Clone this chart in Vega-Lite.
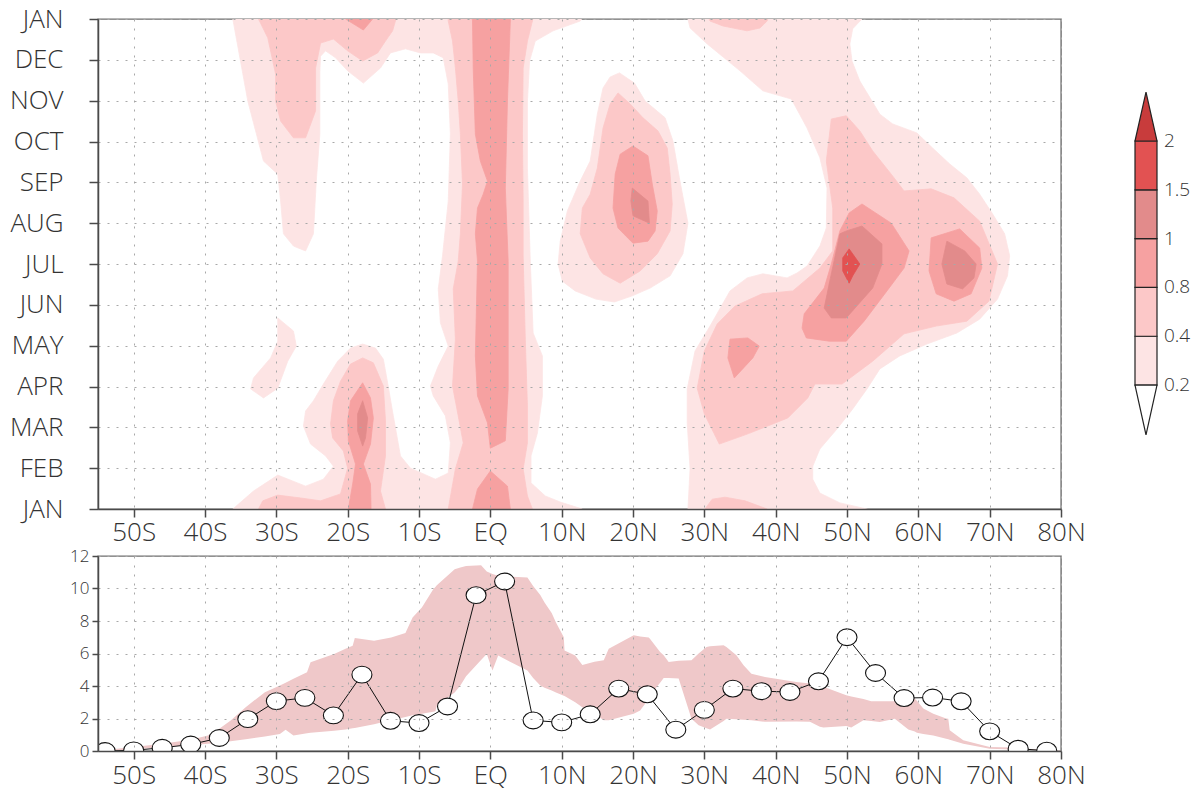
{
  "$schema": "https://vega.github.io/schema/vega-lite/v6.json",
  "background": "white",
  "padding": {"left": 8, "top": 5, "right": 5, "bottom": 5},
  "config": {
    "view": {"stroke": "#6e6e6e", "strokeWidth": 1.4},
    "axis": {"labelFont": "Open Sans", "labelFontWeight": 300, "labelColor": "#333333", "domainColor": "#4a4a4a", "domainWidth": 1.5, "tickColor": "#4a4a4a", "tickWidth": 1.5, "gridColor": "#a8a8a8", "gridDash": [2, 7], "gridWidth": 1, "labelOverlap": false, "labelFlush": false}
  },
  "datasets": {
    "cont": [
      {"p":"A","l":1,"x":-36.6,"y":12.2},{"p":"A","l":1,"x":13.6,"y":12.2},{"p":"A","l":1,"x":12.6,"y":11.95},{"p":"A","l":1,"x":8.8,"y":11.71},{"p":"A","l":1,"x":6.3,"y":11.46},{"p":"A","l":1,"x":5.5,"y":10.97},{"p":"A","l":1,"x":5.2,"y":9.99},{"p":"A","l":1,"x":5.2,"y":8.35},{"p":"A","l":1,"x":5.6,"y":6.07},{"p":"A","l":1,"x":6.0,"y":4.31},{"p":"A","l":1,"x":7.3,"y":3.75},{"p":"A","l":1,"x":7.3,"y":2.77},{"p":"A","l":1,"x":6.6,"y":1.86},{"p":"A","l":1,"x":5.7,"y":1.30},{"p":"A","l":1,"x":5.7,"y":0.64},{"p":"A","l":1,"x":7.7,"y":0.32},{"p":"A","l":1,"x":9.8,"y":0.17},{"p":"A","l":1,"x":12.9,"y":0},{"p":"A","l":1,"x":14.0,"y":-0.2},{"p":"A","l":1,"x":-37.3,"y":-0.2},{"p":"A","l":1,"x":-36.1,"y":0},{"p":"A","l":1,"x":-33.2,"y":0.44},{"p":"A","l":1,"x":-29.8,"y":0.83},{"p":"A","l":1,"x":-25.9,"y":0.56},{"p":"A","l":1,"x":-23.4,"y":0.73},{"p":"A","l":1,"x":-22.0,"y":1.05},{"p":"A","l":1,"x":-23.1,"y":1.30},{"p":"A","l":1,"x":-25.2,"y":1.59},{"p":"A","l":1,"x":-26.2,"y":2.03},{"p":"A","l":1,"x":-25.9,"y":2.40},{"p":"A","l":1,"x":-24.8,"y":2.65},{"p":"A","l":1,"x":-23.4,"y":3.06},{"p":"A","l":1,"x":-21.4,"y":3.62},{"p":"A","l":1,"x":-19.6,"y":3.94},{"p":"A","l":1,"x":-17.9,"y":4.04},{"p":"A","l":1,"x":-16.1,"y":3.94},{"p":"A","l":1,"x":-15.0,"y":3.67},{"p":"A","l":1,"x":-14.4,"y":3.09},{"p":"A","l":1,"x":-13.6,"y":2.28},{"p":"A","l":1,"x":-12.6,"y":1.30},{"p":"A","l":1,"x":-11.2,"y":1.00},{"p":"A","l":1,"x":-7.7,"y":0.73},{"p":"A","l":1,"x":-5.9,"y":0.88},{"p":"A","l":1,"x":-5.6,"y":1.62},{"p":"A","l":1,"x":-6.3,"y":2.28},{"p":"A","l":1,"x":-8.0,"y":2.77},{"p":"A","l":1,"x":-8.4,"y":3.01},{"p":"A","l":1,"x":-7.3,"y":3.50},{"p":"A","l":1,"x":-5.9,"y":3.99},{"p":"A","l":1,"x":-7.0,"y":4.56},{"p":"A","l":1,"x":-7.3,"y":5.39},{"p":"A","l":1,"x":-6.7,"y":6.20},{"p":"A","l":1,"x":-5.9,"y":7.54},{"p":"A","l":1,"x":-5.6,"y":9.18},{"p":"A","l":1,"x":-5.9,"y":10.41},{"p":"A","l":1,"x":-6.6,"y":11.05},{"p":"A","l":1,"x":-8.0,"y":11.17},{"p":"A","l":1,"x":-9.8,"y":11.17},{"p":"A","l":1,"x":-11.9,"y":11.27},{"p":"A","l":1,"x":-14.0,"y":11.17},{"p":"A","l":1,"x":-15.4,"y":10.80},{"p":"A","l":1,"x":-17.8,"y":10.43},{"p":"A","l":1,"x":-20.0,"y":10.73},{"p":"A","l":1,"x":-21.7,"y":11.05},{"p":"A","l":1,"x":-23.1,"y":11.22},{"p":"A","l":1,"x":-23.8,"y":11.09},{"p":"A","l":1,"x":-23.9,"y":10.73},{"p":"A","l":1,"x":-23.9,"y":9.18},{"p":"A","l":1,"x":-24.4,"y":8.03},{"p":"A","l":1,"x":-24.8,"y":6.74},{"p":"A","l":1,"x":-25.9,"y":6.32},{"p":"A","l":1,"x":-27.6,"y":6.44},{"p":"A","l":1,"x":-29.0,"y":6.74},{"p":"A","l":1,"x":-29.4,"y":7.54},{"p":"A","l":1,"x":-29.8,"y":8.20},{"p":"A","l":1,"x":-31.8,"y":8.52},{"p":"A","l":1,"x":-34.0,"y":9.99},{"p":"A","l":1,"x":-36.1,"y":12.0},
      {"p":"B","l":1,"x":-29.8,"y":4.68},{"p":"B","l":1,"x":-27.6,"y":4.36},{"p":"B","l":1,"x":-27.2,"y":3.99},{"p":"B","l":1,"x":-28.4,"y":3.62},{"p":"B","l":1,"x":-29.8,"y":2.96},{"p":"B","l":1,"x":-31.8,"y":2.72},{"p":"B","l":1,"x":-33.6,"y":2.94},{"p":"B","l":1,"x":-33.2,"y":3.21},{"p":"B","l":1,"x":-30.8,"y":3.70},{"p":"B","l":1,"x":-29.8,"y":4.11},
      {"p":"C","l":1,"x":18.1,"y":10.68},{"p":"C","l":1,"x":20.2,"y":10.43},{"p":"C","l":1,"x":21.7,"y":9.99},{"p":"C","l":1,"x":24.5,"y":9.58},{"p":"C","l":1,"x":25.6,"y":9.01},{"p":"C","l":1,"x":26.5,"y":8.11},{"p":"C","l":1,"x":27.7,"y":7.00},{"p":"C","l":1,"x":27.0,"y":6.25},{"p":"C","l":1,"x":25.2,"y":5.71},{"p":"C","l":1,"x":22.4,"y":5.41},{"p":"C","l":1,"x":19.9,"y":5.22},{"p":"C","l":1,"x":17.4,"y":5.07},{"p":"C","l":1,"x":14.8,"y":5.14},{"p":"C","l":1,"x":11.9,"y":5.34},{"p":"C","l":1,"x":10.1,"y":5.58},{"p":"C","l":1,"x":9.5,"y":6.00},{"p":"C","l":1,"x":9.8,"y":6.56},{"p":"C","l":1,"x":10.8,"y":7.30},{"p":"C","l":1,"x":12.6,"y":8.03},{"p":"C","l":1,"x":14.0,"y":8.52},{"p":"C","l":1,"x":15.0,"y":9.67},{"p":"C","l":1,"x":15.8,"y":10.31},{"p":"C","l":1,"x":16.8,"y":10.58},
      {"p":"D","l":1,"x":27.2,"y":12.2},{"p":"D","l":1,"x":52.7,"y":12.2},{"p":"D","l":1,"x":52.1,"y":12.0},{"p":"D","l":1,"x":50.8,"y":11.76},{"p":"D","l":1,"x":50.4,"y":11.39},{"p":"D","l":1,"x":50.7,"y":10.97},{"p":"D","l":1,"x":51.8,"y":10.48},{"p":"D","l":1,"x":53.5,"y":9.99},{"p":"D","l":1,"x":54.6,"y":9.67},{"p":"D","l":1,"x":56.4,"y":9.43},{"p":"D","l":1,"x":59.8,"y":9.21},{"p":"D","l":1,"x":62.0,"y":8.84},{"p":"D","l":1,"x":64.4,"y":8.45},{"p":"D","l":1,"x":66.8,"y":8.11},{"p":"D","l":1,"x":68.6,"y":7.71},{"p":"D","l":1,"x":70.4,"y":7.23},{"p":"D","l":1,"x":72.1,"y":6.74},{"p":"D","l":1,"x":72.8,"y":6.20},{"p":"D","l":1,"x":72.5,"y":5.71},{"p":"D","l":1,"x":71.1,"y":5.14},{"p":"D","l":1,"x":68.6,"y":4.65},{"p":"D","l":1,"x":65.4,"y":4.31},{"p":"D","l":1,"x":61.2,"y":4.04},{"p":"D","l":1,"x":57.4,"y":3.75},{"p":"D","l":1,"x":54.6,"y":3.43},{"p":"D","l":1,"x":52.8,"y":2.94},{"p":"D","l":1,"x":50.8,"y":2.45},{"p":"D","l":1,"x":48.6,"y":1.96},{"p":"D","l":1,"x":46.2,"y":1.47},{"p":"D","l":1,"x":45.2,"y":1.05},{"p":"D","l":1,"x":45.2,"y":0.73},{"p":"D","l":1,"x":46.2,"y":0.39},{"p":"D","l":1,"x":49.0,"y":0.15},{"p":"D","l":1,"x":52.8,"y":0},{"p":"D","l":1,"x":54.6,"y":-0.2},{"p":"D","l":1,"x":27.2,"y":-0.2},{"p":"D","l":1,"x":27.7,"y":0},{"p":"D","l":1,"x":28.0,"y":0.98},{"p":"D","l":1,"x":27.6,"y":2.11},{"p":"D","l":1,"x":27.6,"y":2.94},{"p":"D","l":1,"x":28.7,"y":3.87},{"p":"D","l":1,"x":30.8,"y":4.48},{"p":"D","l":1,"x":33.6,"y":5.34},{"p":"D","l":1,"x":36.0,"y":5.66},{"p":"D","l":1,"x":38.2,"y":5.76},{"p":"D","l":1,"x":41.6,"y":5.66},{"p":"D","l":1,"x":43.0,"y":5.78},{"p":"D","l":1,"x":44.4,"y":5.95},{"p":"D","l":1,"x":46.2,"y":6.44},{"p":"D","l":1,"x":47.1,"y":6.88},{"p":"D","l":1,"x":47.2,"y":7.86},{"p":"D","l":1,"x":46.2,"y":8.60},{"p":"D","l":1,"x":44.4,"y":9.33},{"p":"D","l":1,"x":42.2,"y":10.04},{"p":"D","l":1,"x":38.2,"y":10.24},{"p":"D","l":1,"x":35.0,"y":10.73},{"p":"D","l":1,"x":30.4,"y":11.39},{"p":"D","l":1,"x":28.0,"y":11.78},{"p":"D","l":1,"x":27.7,"y":12.0},
      {"p":"E","l":2,"x":-32.8,"y":12.2},{"p":"E","l":2,"x":-32.5,"y":12.0},{"p":"E","l":2,"x":-31.2,"y":11.54},{"p":"E","l":2,"x":-30.1,"y":10.65},{"p":"E","l":2,"x":-30.1,"y":9.99},{"p":"E","l":2,"x":-29.4,"y":9.50},{"p":"E","l":2,"x":-27.6,"y":9.09},{"p":"E","l":2,"x":-25.9,"y":9.09},{"p":"E","l":2,"x":-24.5,"y":9.75},{"p":"E","l":2,"x":-24.5,"y":10.80},{"p":"E","l":2,"x":-23.8,"y":11.41},{"p":"E","l":2,"x":-22.0,"y":11.51},{"p":"E","l":2,"x":-20.0,"y":11.22},{"p":"E","l":2,"x":-17.9,"y":10.97},{"p":"E","l":2,"x":-15.8,"y":11.17},{"p":"E","l":2,"x":-14.7,"y":11.46},{"p":"E","l":2,"x":-13.7,"y":11.71},{"p":"E","l":2,"x":-12.9,"y":12.2},
      {"p":"F","l":2,"x":-6.0,"y":12.2},{"p":"F","l":2,"x":-5.9,"y":11.95},{"p":"F","l":2,"x":-5.3,"y":11.46},{"p":"F","l":2,"x":-4.9,"y":10.80},{"p":"F","l":2,"x":-4.5,"y":9.99},{"p":"F","l":2,"x":-4.2,"y":9.18},{"p":"F","l":2,"x":-3.9,"y":7.96},{"p":"F","l":2,"x":-4.2,"y":6.74},{"p":"F","l":2,"x":-4.5,"y":6.07},{"p":"F","l":2,"x":-5.2,"y":5.39},{"p":"F","l":2,"x":-4.9,"y":4.16},{"p":"F","l":2,"x":-5.3,"y":3.01},{"p":"F","l":2,"x":-4.5,"y":2.28},{"p":"F","l":2,"x":-3.8,"y":1.62},{"p":"F","l":2,"x":-4.9,"y":0.98},{"p":"F","l":2,"x":-5.9,"y":0},{"p":"F","l":2,"x":-6.2,"y":-0.2},{"p":"F","l":2,"x":6.0,"y":-0.2},{"p":"F","l":2,"x":5.9,"y":0},{"p":"F","l":2,"x":5.2,"y":0.32},{"p":"F","l":2,"x":4.6,"y":0.98},{"p":"F","l":2,"x":5.2,"y":1.62},{"p":"F","l":2,"x":5.2,"y":2.52},{"p":"F","l":2,"x":4.9,"y":4.16},{"p":"F","l":2,"x":4.6,"y":6.20},{"p":"F","l":2,"x":4.6,"y":7.54},{"p":"F","l":2,"x":4.5,"y":9.18},{"p":"F","l":2,"x":4.6,"y":10.80},{"p":"F","l":2,"x":5.2,"y":11.46},{"p":"F","l":2,"x":5.9,"y":11.95},{"p":"F","l":2,"x":6.2,"y":12.2},
      {"p":"G","l":2,"x":-32.8,"y":-0.2},{"p":"G","l":2,"x":-32.5,"y":0},{"p":"G","l":2,"x":-31.9,"y":0.20},{"p":"G","l":2,"x":-29.8,"y":0.34},{"p":"G","l":2,"x":-26.6,"y":0.27},{"p":"G","l":2,"x":-23.8,"y":0.20},{"p":"G","l":2,"x":-21.0,"y":0.37},{"p":"G","l":2,"x":-20.0,"y":1.00},{"p":"G","l":2,"x":-20.6,"y":1.42},{"p":"G","l":2,"x":-22.1,"y":1.74},{"p":"G","l":2,"x":-22.4,"y":2.08},{"p":"G","l":2,"x":-22.0,"y":2.65},{"p":"G","l":2,"x":-21.0,"y":3.13},{"p":"G","l":2,"x":-19.6,"y":3.55},{"p":"G","l":2,"x":-17.9,"y":3.70},{"p":"G","l":2,"x":-16.4,"y":3.58},{"p":"G","l":2,"x":-15.0,"y":3.01},{"p":"G","l":2,"x":-14.7,"y":2.16},{"p":"G","l":2,"x":-14.7,"y":1.30},{"p":"G","l":2,"x":-15.0,"y":0.93},{"p":"G","l":2,"x":-15.4,"y":0.44},{"p":"G","l":2,"x":-14.7,"y":0},{"p":"G","l":2,"x":-14.6,"y":-0.2},
      {"p":"H","l":2,"x":17.9,"y":10.19},{"p":"H","l":2,"x":19.6,"y":9.92},{"p":"H","l":2,"x":21.4,"y":9.58},{"p":"H","l":2,"x":23.5,"y":9.26},{"p":"H","l":2,"x":24.8,"y":8.84},{"p":"H","l":2,"x":25.2,"y":8.20},{"p":"H","l":2,"x":25.5,"y":7.47},{"p":"H","l":2,"x":25.2,"y":6.81},{"p":"H","l":2,"x":23.4,"y":6.25},{"p":"H","l":2,"x":21.0,"y":5.83},{"p":"H","l":2,"x":18.2,"y":5.53},{"p":"H","l":2,"x":15.8,"y":5.76},{"p":"H","l":2,"x":14.0,"y":6.15},{"p":"H","l":2,"x":12.6,"y":6.74},{"p":"H","l":2,"x":12.9,"y":7.37},{"p":"H","l":2,"x":14.0,"y":7.71},{"p":"H","l":2,"x":15.0,"y":8.35},{"p":"H","l":2,"x":15.8,"y":9.33},{"p":"H","l":2,"x":16.8,"y":9.92},
      {"p":"I","l":2,"x":30.1,"y":12.2},{"p":"I","l":2,"x":30.8,"y":11.95},{"p":"I","l":2,"x":32.6,"y":11.83},{"p":"I","l":2,"x":36.0,"y":11.71},{"p":"I","l":2,"x":37.8,"y":11.78},{"p":"I","l":2,"x":38.8,"y":11.95},{"p":"I","l":2,"x":39.2,"y":12.2},
      {"p":"J","l":2,"x":47.8,"y":9.55},{"p":"J","l":2,"x":49.9,"y":9.63},{"p":"J","l":2,"x":51.8,"y":9.26},{"p":"J","l":2,"x":53.6,"y":8.77},{"p":"J","l":2,"x":56.2,"y":8.20},{"p":"J","l":2,"x":58.0,"y":7.79},{"p":"J","l":2,"x":61.8,"y":7.84},{"p":"J","l":2,"x":65.0,"y":7.62},{"p":"J","l":2,"x":68.6,"y":7.05},{"p":"J","l":2,"x":71.1,"y":6.00},{"p":"J","l":2,"x":69.9,"y":5.09},{"p":"J","l":2,"x":66.8,"y":4.60},{"p":"J","l":2,"x":62.5,"y":4.48},{"p":"J","l":2,"x":58.0,"y":4.29},{"p":"J","l":2,"x":53.6,"y":3.62},{"p":"J","l":2,"x":49.3,"y":3.06},{"p":"J","l":2,"x":45.5,"y":3.06},{"p":"J","l":2,"x":44.5,"y":2.72},{"p":"J","l":2,"x":41.7,"y":2.23},{"p":"J","l":2,"x":36.1,"y":1.84},{"p":"J","l":2,"x":32.1,"y":1.59},{"p":"J","l":2,"x":30.0,"y":2.33},{"p":"J","l":2,"x":29.0,"y":2.96},{"p":"J","l":2,"x":30.0,"y":3.87},{"p":"J","l":2,"x":31.8,"y":4.53},{"p":"J","l":2,"x":34.3,"y":4.97},{"p":"J","l":2,"x":38.1,"y":5.27},{"p":"J","l":2,"x":42.4,"y":5.34},{"p":"J","l":2,"x":46.2,"y":5.90},{"p":"J","l":2,"x":48.0,"y":6.32},{"p":"J","l":2,"x":48.0,"y":7.37},{"p":"J","l":2,"x":47.1,"y":8.52},
      {"p":"K","l":2,"x":29.8,"y":-0.2},{"p":"K","l":2,"x":30.1,"y":0},{"p":"K","l":2,"x":31.1,"y":0.24},{"p":"K","l":2,"x":32.9,"y":0.29},{"p":"K","l":2,"x":35.7,"y":0.20},{"p":"K","l":2,"x":38.8,"y":0},{"p":"K","l":2,"x":39.2,"y":-0.2},
      {"p":"L","l":3,"x":-20.6,"y":12.2},{"p":"L","l":3,"x":-20.3,"y":12.0},{"p":"L","l":3,"x":-17.8,"y":11.73},{"p":"L","l":3,"x":-16.5,"y":12.0},{"p":"L","l":3,"x":-16.2,"y":12.2},
      {"p":"M","l":3,"x":-2.7,"y":12.2},{"p":"M","l":3,"x":-2.5,"y":11.95},{"p":"M","l":3,"x":-2.4,"y":10.80},{"p":"M","l":3,"x":-2.1,"y":9.18},{"p":"M","l":3,"x":-1.4,"y":8.52},{"p":"M","l":3,"x":-0.4,"y":8.03},{"p":"M","l":3,"x":-1.0,"y":7.71},{"p":"M","l":3,"x":-1.8,"y":7.37},{"p":"M","l":3,"x":-2.1,"y":6.74},{"p":"M","l":3,"x":-1.8,"y":6.07},{"p":"M","l":3,"x":-2.1,"y":3.75},{"p":"M","l":3,"x":-1.8,"y":2.77},{"p":"M","l":3,"x":-0.4,"y":2.11},{"p":"M","l":3,"x":0,"y":1.49},{"p":"M","l":3,"x":2.1,"y":1.67},{"p":"M","l":3,"x":2.5,"y":2.94},{"p":"M","l":3,"x":2.5,"y":6.07},{"p":"M","l":3,"x":2.1,"y":7.86},{"p":"M","l":3,"x":2.4,"y":9.99},{"p":"M","l":3,"x":2.8,"y":11.95},{"p":"M","l":3,"x":2.9,"y":12.2},
      {"p":"N","l":3,"x":-2.7,"y":-0.2},{"p":"N","l":3,"x":-2.5,"y":0},{"p":"N","l":3,"x":-1.8,"y":0.49},{"p":"N","l":3,"x":0,"y":0.93},{"p":"N","l":3,"x":2.4,"y":0.56},{"p":"N","l":3,"x":2.8,"y":0},{"p":"N","l":3,"x":2.9,"y":-0.2},
      {"p":"O","l":3,"x":-17.9,"y":3.09},{"p":"O","l":3,"x":-16.8,"y":2.72},{"p":"O","l":3,"x":-16.4,"y":2.23},{"p":"O","l":3,"x":-16.8,"y":1.59},{"p":"O","l":3,"x":-17.8,"y":1.10},{"p":"O","l":3,"x":-16.8,"y":0.61},{"p":"O","l":3,"x":-16.7,"y":-0.2},{"p":"O","l":3,"x":-20.0,"y":-0.2},{"p":"O","l":3,"x":-19.9,"y":0},{"p":"O","l":3,"x":-19.3,"y":0.61},{"p":"O","l":3,"x":-18.9,"y":1.10},{"p":"O","l":3,"x":-19.9,"y":1.67},{"p":"O","l":3,"x":-20.0,"y":2.16},{"p":"O","l":3,"x":-19.6,"y":2.65},
      {"p":"P","l":3,"x":20.0,"y":8.89},{"p":"P","l":3,"x":22.1,"y":8.65},{"p":"P","l":3,"x":22.7,"y":7.96},{"p":"P","l":3,"x":23.4,"y":7.30},{"p":"P","l":3,"x":23.1,"y":6.81},{"p":"P","l":3,"x":22.1,"y":6.56},{"p":"P","l":3,"x":20.0,"y":6.51},{"p":"P","l":3,"x":17.9,"y":6.88},{"p":"P","l":3,"x":17.2,"y":7.37},{"p":"P","l":3,"x":17.5,"y":8.20},{"p":"P","l":3,"x":18.2,"y":8.69},
      {"p":"Q","l":3,"x":33.6,"y":4.16},{"p":"Q","l":3,"x":36.1,"y":4.19},{"p":"Q","l":3,"x":37.7,"y":3.99},{"p":"Q","l":3,"x":36.8,"y":3.70},{"p":"Q","l":3,"x":34.2,"y":3.21},{"p":"Q","l":3,"x":33.3,"y":3.70},
      {"p":"R","l":3,"x":50.3,"y":7.25},{"p":"R","l":3,"x":52.1,"y":7.47},{"p":"R","l":3,"x":56.2,"y":7.00},{"p":"R","l":3,"x":58.7,"y":6.32},{"p":"R","l":3,"x":58.0,"y":5.90},{"p":"R","l":3,"x":55.6,"y":5.34},{"p":"R","l":3,"x":52.4,"y":4.60},{"p":"R","l":3,"x":49.9,"y":4.11},{"p":"R","l":3,"x":47.5,"y":4.11},{"p":"R","l":3,"x":44.3,"y":4.19},{"p":"R","l":3,"x":43.7,"y":4.43},{"p":"R","l":3,"x":44.0,"y":4.78},{"p":"R","l":3,"x":46.8,"y":5.41},{"p":"R","l":3,"x":47.8,"y":6.00},{"p":"R","l":3,"x":49.0,"y":6.81},
      {"p":"S","l":3,"x":61.8,"y":6.64},{"p":"S","l":3,"x":65.8,"y":6.86},{"p":"S","l":3,"x":68.6,"y":6.39},{"p":"S","l":3,"x":68.9,"y":5.90},{"p":"S","l":3,"x":67.4,"y":5.27},{"p":"S","l":3,"x":65.0,"y":5.09},{"p":"S","l":3,"x":62.5,"y":5.27},{"p":"S","l":3,"x":61.5,"y":5.83},
      {"p":"T","l":4,"x":-17.9,"y":2.65},{"p":"T","l":4,"x":-17.2,"y":2.23},{"p":"T","l":4,"x":-17.5,"y":1.74},{"p":"T","l":4,"x":-17.9,"y":1.54},{"p":"T","l":4,"x":-18.6,"y":1.91},{"p":"T","l":4,"x":-18.6,"y":2.33},
      {"p":"U","l":4,"x":19.9,"y":7.86},{"p":"U","l":4,"x":22.1,"y":7.54},{"p":"U","l":4,"x":22.3,"y":7.00},{"p":"U","l":4,"x":20.0,"y":7.18},{"p":"U","l":4,"x":19.7,"y":7.54},
      {"p":"V","l":4,"x":49.9,"y":6.81},{"p":"V","l":4,"x":52.1,"y":6.93},{"p":"V","l":4,"x":54.9,"y":6.49},{"p":"V","l":4,"x":54.9,"y":6.00},{"p":"V","l":4,"x":53.6,"y":5.41},{"p":"V","l":4,"x":49.9,"y":4.68},{"p":"V","l":4,"x":47.8,"y":4.68},{"p":"V","l":4,"x":46.8,"y":4.92},{"p":"V","l":4,"x":47.5,"y":5.51},{"p":"V","l":4,"x":49.0,"y":6.74},
      {"p":"W","l":4,"x":64.0,"y":6.56},{"p":"W","l":4,"x":66.5,"y":6.32},{"p":"W","l":4,"x":68.1,"y":6.00},{"p":"W","l":4,"x":67.8,"y":5.66},{"p":"W","l":4,"x":66.2,"y":5.39},{"p":"W","l":4,"x":64.0,"y":5.51},{"p":"W","l":4,"x":63.3,"y":6.00},
      {"p":"X","l":5,"x":50.3,"y":6.37},{"p":"X","l":5,"x":51.8,"y":6.00},{"p":"X","l":5,"x":50.8,"y":5.71},{"p":"X","l":5,"x":50.3,"y":5.53},{"p":"X","l":5,"x":49.4,"y":5.83},{"p":"X","l":5,"x":49.4,"y":6.15}
    ],
    "band": [
      {"x":-55,"v":0.02,"lo":0},{"x":-50,"v":0.25,"lo":0.1},{"x":-46,"v":0.45,"lo":0.25},{"x":-42,"v":0.7,"lo":0.35},{"x":-39.6,"v":0.96,"lo":0.45},{"x":-38,"v":1.37,"lo":0.5},{"x":-36.4,"v":1.88,"lo":0.6},{"x":-34.3,"v":2.7,"lo":0.72},{"x":-31.6,"v":3.62,"lo":0.9},{"x":-29.5,"v":4.03,"lo":1.05},{"x":-28.7,"v":4.2,"lo":1.31},{"x":-27.6,"v":4.45,"lo":0.96},{"x":-25.7,"v":4.85,"lo":1.1},{"x":-25.2,"v":5.46,"lo":1.12},{"x":-21.9,"v":5.97,"lo":1.25},{"x":-20.3,"v":6.3,"lo":1.33},{"x":-19.3,"v":6.48,"lo":1.4},{"x":-19.0,"v":6.95,"lo":1.42},{"x":-16.3,"v":6.79,"lo":1.65},{"x":-15.0,"v":6.9,"lo":1.78},{"x":-13.9,"v":6.99,"lo":1.9},{"x":-11.9,"v":7.26,"lo":2.1},{"x":-10.9,"v":8.22,"lo":2.2},{"x":-9.6,"v":8.83,"lo":2.3},{"x":-8.0,"v":9.96,"lo":2.42},{"x":-7.7,"v":10.1,"lo":2.45},{"x":-7.5,"v":10.2,"lo":2.8},{"x":-5.0,"v":11.19,"lo":3.6},{"x":-4.2,"v":11.3,"lo":4.03},{"x":-3.4,"v":11.39,"lo":4.6},{"x":-1.3,"v":11.43,"lo":5.6},{"x":-0.5,"v":11.04,"lo":5.97},{"x":0.3,"v":10.9,"lo":4.95},{"x":1.1,"v":10.78,"lo":5.87},{"x":5.2,"v":10.67,"lo":4.95},{"x":6.0,"v":10.16,"lo":4.5},{"x":7.0,"v":9.6,"lo":4.03},{"x":7.6,"v":9.14,"lo":3.9},{"x":8.6,"v":8.5,"lo":3.72},{"x":9.2,"v":7.91,"lo":3.6},{"x":10.3,"v":7.0,"lo":3.4},{"x":10.4,"v":6.18,"lo":3.38},{"x":11.9,"v":5.87,"lo":3.0},{"x":12.9,"v":5.3,"lo":2.7},{"x":14.6,"v":5.5,"lo":2.3},{"x":15.9,"v":5.59,"lo":1.9},{"x":16.6,"v":6.3,"lo":1.9},{"x":20.1,"v":7.13,"lo":2.3},{"x":21.0,"v":7.05,"lo":2.5},{"x":22.2,"v":6.98,"lo":3.2},{"x":22.4,"v":6.9,"lo":3.43},{"x":23.8,"v":6.1,"lo":4.2},{"x":24.3,"v":5.9,"lo":4.5},{"x":25.0,"v":5.48,"lo":4.5},{"x":26.4,"v":5.55,"lo":4.46},{"x":28.2,"v":5.59,"lo":1.99},{"x":29.2,"v":6.0,"lo":1.58},{"x":30.3,"v":6.4,"lo":1.4},{"x":30.8,"v":6.45,"lo":1.33},{"x":32.7,"v":6.51,"lo":1.85},{"x":33.1,"v":6.4,"lo":1.99},{"x":34.5,"v":5.89,"lo":1.95},{"x":35.5,"v":5.28,"lo":1.93},{"x":36.6,"v":4.76,"lo":1.9},{"x":38.5,"v":4.56,"lo":1.8},{"x":42.9,"v":4.25,"lo":1.82},{"x":44.8,"v":4.15,"lo":1.8},{"x":46.2,"v":4.05,"lo":1.5},{"x":46.7,"v":3.95,"lo":1.44},{"x":49.9,"v":3.43,"lo":1.54},{"x":50.6,"v":3.35,"lo":1.44},{"x":52.3,"v":3.2,"lo":1.89},{"x":53.4,"v":3.06,"lo":1.85},{"x":54.6,"v":3.06,"lo":1.79},{"x":56.7,"v":3.06,"lo":1.99},{"x":58.6,"v":3.43,"lo":1.33},{"x":59.5,"v":3.22,"lo":1.2},{"x":59.8,"v":3.1,"lo":1.13},{"x":60.7,"v":2.61,"lo":1.05},{"x":62.1,"v":2.3,"lo":0.95},{"x":63.9,"v":2.0,"lo":0.76},{"x":64.2,"v":1.99,"lo":0.73},{"x":64.4,"v":1.27,"lo":0.7},{"x":66.3,"v":0.66,"lo":0.45},{"x":70.0,"v":0.25,"lo":0.14},{"x":73.3,"v":0.21,"lo":0.1},{"x":75.2,"v":0.14,"lo":0.07},{"x":80,"v":0.01,"lo":0}
    ],
    "prof": [
      {"x":-54,"v":0.0},{"x":-50,"v":0.04},{"x":-46,"v":0.2},{"x":-42,"v":0.4},{"x":-38,"v":0.8},{"x":-34,"v":1.96},{"x":-30,"v":3.07},{"x":-26,"v":3.27},{"x":-22,"v":2.19},{"x":-18,"v":4.7},{"x":-14,"v":1.86},{"x":-10,"v":1.72},{"x":-6,"v":2.74},{"x":-2,"v":9.59},{"x":2,"v":10.43},{"x":6,"v":1.88},{"x":10,"v":1.76},{"x":14,"v":2.26},{"x":18,"v":3.84},{"x":22,"v":3.49},{"x":26,"v":1.31},{"x":30,"v":2.53},{"x":34,"v":3.84},{"x":38,"v":3.68},{"x":42,"v":3.63},{"x":46,"v":4.29},{"x":50,"v":7.0},{"x":54,"v":4.8},{"x":58,"v":3.26},{"x":62,"v":3.29},{"x":66,"v":3.06},{"x":70,"v":1.21},{"x":74,"v":0.14},{"x":78,"v":0.02}
    ],
    "cbar": [
      {"a":0,"b":1,"lo":0,"hi":1,"c":"#fde4e4"},{"a":0,"b":1,"lo":1,"hi":2,"c":"#fcc8c8"},{"a":0,"b":1,"lo":2,"hi":3,"c":"#f6a1a1"},{"a":0,"b":1,"lo":3,"hi":4,"c":"#e28b8b"},{"a":0,"b":1,"lo":4,"hi":5,"c":"#e25252"}
    ],
    "ctri": [
      {"t":"top","u":0,"v":5},{"t":"top","u":1,"v":5},{"t":"top","u":0.5,"v":6.0},
      {"t":"bot","u":0,"v":0},{"t":"bot","u":1,"v":0},{"t":"bot","u":0.5,"v":-1.02}
    ],
    "clab": [
      {"u":1,"v":0,"s":"0.2"},{"u":1,"v":1,"s":"0.4"},{"u":1,"v":2,"s":"0.8"},{"u":1,"v":3,"s":"1"},{"u":1,"v":4,"s":"1.5"},{"u":1,"v":5,"s":"2"}
    ]
  },
  "hconcat": [
    {
      "spacing": 0,
      "vconcat": [
        {
          "width": 963,
          "height": 490,
          "data": {"name": "cont"},
          "encoding": {
            "x": {"field": "x", "type": "quantitative", "scale": {"domain": [-55, 80], "nice": false, "zero": false},
              "axis": {"title": null, "values": [-50,-40,-30,-20,-10,0,10,20,30,40,50,60,70,80], "labelExpr": "datum.value == 0 ? 'EQ' : (datum.value < 0 ? (-datum.value) + 'S' : datum.value + 'N')", "labelFontSize": 26, "labelPadding": 2, "tickSize": 8, "grid": true, "zindex": 1}},
            "y": {"field": "y", "type": "quantitative", "scale": {"domain": [0, 12], "nice": false, "zero": false},
              "axis": {"title": null, "values": [0,1,2,3,4,5,6,7,8,9,10,11,12], "labelExpr": "['JAN','FEB','MAR','APR','MAY','JUN','JUL','AUG','SEP','OCT','NOV','DEC','JAN'][datum.value]", "labelFontSize": 26, "labelPadding": 26, "tickSize": 9, "grid": true, "zindex": 1}},
            "detail": {"field": "p"},
            "order": {"value": null}
          },
          "layer": [
            {"transform": [{"filter": "datum.l == 1"}], "mark": {"type": "line", "interpolate": "linear-closed", "fill": "#fde4e4", "stroke": "#fde4e4", "strokeWidth": 0.8, "clip": true}},
            {"transform": [{"filter": "datum.l == 2"}], "mark": {"type": "line", "interpolate": "linear-closed", "fill": "#fcc8c8", "stroke": "#fcc8c8", "strokeWidth": 0.8, "clip": true}},
            {"transform": [{"filter": "datum.l == 3"}], "mark": {"type": "line", "interpolate": "linear-closed", "fill": "#f6a1a1", "stroke": "#f6a1a1", "strokeWidth": 0.8, "clip": true}},
            {"transform": [{"filter": "datum.l == 4"}], "mark": {"type": "line", "interpolate": "linear-closed", "fill": "#e28b8b", "stroke": "#e28b8b", "strokeWidth": 0.8, "clip": true}},
            {"transform": [{"filter": "datum.l == 5"}], "mark": {"type": "line", "interpolate": "linear-closed", "fill": "#e25252", "stroke": "#e25252", "strokeWidth": 0.8, "clip": true}}
          ]
        },
        {
          "width": 963,
          "height": 195,
          "encoding": {
            "x": {"field": "x", "type": "quantitative", "scale": {"domain": [-55, 80], "nice": false, "zero": false},
              "axis": {"title": null, "values": [-50,-40,-30,-20,-10,0,10,20,30,40,50,60,70,80], "labelExpr": "datum.value == 0 ? 'EQ' : (datum.value < 0 ? (-datum.value) + 'S' : datum.value + 'N')", "labelFontSize": 26, "labelPadding": 3, "tickSize": 8, "grid": true, "zindex": 1}},
            "y": {"field": "v", "type": "quantitative", "scale": {"domain": [0, 12], "nice": false, "zero": false},
              "axis": {"title": null, "values": [0,2,4,6,8,10,12], "labelOverlap": false, "labelFontSize": 17, "labelPadding": 3, "tickSize": 6, "grid": true, "zindex": 1}}
          },
          "layer": [
            {"data": {"name": "band"}, "mark": {"type": "area", "color": "#efc8c9", "clip": true},
              "encoding": {"y2": {"field": "lo"}}},
            {"data": {"name": "prof"}, "mark": {"type": "line", "color": "#111", "strokeWidth": 1, "clip": true}},
            {"data": {"name": "prof"}, "mark": {"type": "point", "shape": "M-1,0A1,0.84,0,1,1,1,0A1,0.84,0,1,1,-1,0Z", "size": 400, "filled": false, "fill": "white", "fillOpacity": 1, "stroke": "#111", "strokeWidth": 1.1, "opacity": 1, "clip": true}}
          ]
        }
      ]
    },
    {
      "width": 22,
      "height": 490,
      "view": {"stroke": null},
      "layer": [
        {"data": {"name": "cbar"}, "mark": {"type": "rect", "stroke": "#222", "strokeWidth": 1.2},
          "encoding": {
            "x": {"field": "a", "type": "quantitative", "scale": {"domain": [0, 1], "nice": false, "zero": false}, "axis": null},
            "x2": {"field": "b"},
            "y": {"field": "lo", "type": "quantitative", "scale": {"domain": [-2.54, 7.50], "nice": false, "zero": false}, "axis": null},
            "y2": {"field": "hi"},
            "fill": {"field": "c", "type": "nominal", "scale": null, "legend": null}
          }},
        {"data": {"name": "ctri"}, "transform": [{"filter": "datum.t == 'top'"}], "mark": {"type": "line", "interpolate": "linear-closed", "fill": "#c83c3c", "stroke": "#222", "strokeWidth": 1.2},
          "encoding": {
            "x": {"field": "u", "type": "quantitative", "scale": {"domain": [0, 1], "nice": false, "zero": false}, "axis": null},
            "y": {"field": "v", "type": "quantitative", "scale": {"domain": [-2.54, 7.50], "nice": false, "zero": false}, "axis": null},
            "order": {"value": null}
          }},
        {"data": {"name": "ctri"}, "transform": [{"filter": "datum.t == 'bot'"}], "mark": {"type": "line", "interpolate": "linear-closed", "fill": "white", "stroke": "#222", "strokeWidth": 1.2},
          "encoding": {
            "x": {"field": "u", "type": "quantitative", "scale": {"domain": [0, 1], "nice": false, "zero": false}, "axis": null},
            "y": {"field": "v", "type": "quantitative", "scale": {"domain": [-2.54, 7.50], "nice": false, "zero": false}, "axis": null},
            "order": {"value": null}
          }},
        {"data": {"name": "clab"}, "mark": {"type": "text", "align": "left", "baseline": "middle", "dx": 7, "font": "Open Sans", "fontWeight": 300, "fontSize": 19, "color": "#333"},
          "encoding": {
            "x": {"field": "u", "type": "quantitative", "scale": {"domain": [0, 1], "nice": false, "zero": false}, "axis": null},
            "y": {"field": "v", "type": "quantitative", "scale": {"domain": [-2.54, 7.50], "nice": false, "zero": false}, "axis": null},
            "text": {"field": "s"}
          }}
      ]
    }
  ],
  "spacing": 46
}
